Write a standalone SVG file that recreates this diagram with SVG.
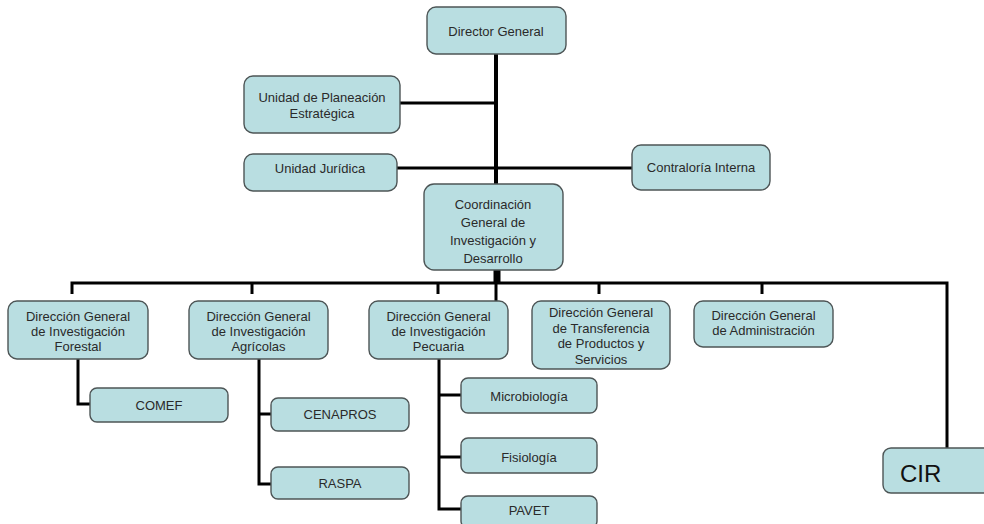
<svg xmlns="http://www.w3.org/2000/svg" width="984" height="524" viewBox="0 0 984 524">
  <style>
    .box { fill: #b9dee1; stroke: #4d5556; stroke-width: 1.4; }
    .lbl { font-family: "Liberation Sans", Arial, sans-serif; font-size: 13px; fill: #2a2a2a; text-anchor: middle; }
    .big { font-family: "Liberation Sans", Arial, sans-serif; font-size: 24px; fill: #111; }
    .ln { fill: none; stroke: #000; stroke-width: 3; stroke-linecap: butt; stroke-linejoin: miter; }
    .trunk { fill: none; stroke: #000; stroke-width: 4; }
  </style>
  <rect width="984" height="524" fill="#ffffff"/>

  <!-- connectors -->
  <g id="connectors">
    <line class="trunk" x1="496" y1="54" x2="496" y2="184"/>
    <line class="ln" x1="400" y1="103" x2="496" y2="103"/>
    <line class="ln" x1="397" y1="168" x2="632" y2="168"/>
    <line class="ln" x1="497" y1="269" x2="497" y2="283" style="stroke-width:7"/>
    <line class="ln" x1="496" y1="283" x2="496" y2="301"/>
    <polyline class="ln" points="72,294 72,283 947,283 947,448"/>
    <line class="ln" x1="252" y1="283" x2="252" y2="294"/>
    <line class="ln" x1="438" y1="283" x2="438" y2="294"/>
    <line class="ln" x1="599" y1="283" x2="599" y2="294"/>
    <line class="ln" x1="762" y1="283" x2="762" y2="294"/>
    <polyline class="ln" points="78,359 78,404 90,404"/>
    <polyline class="ln" points="259,359 259,484 271,484"/>
    <line class="ln" x1="259" y1="414" x2="271" y2="414"/>
    <polyline class="ln" points="439,359 439,509 461,509"/>
    <line class="ln" x1="439" y1="395" x2="461" y2="395"/>
    <line class="ln" x1="439" y1="457" x2="461" y2="457"/>
  </g>

  <g id="director-general">
    <rect class="box" x="427" y="7" width="139" height="47" rx="9"/>
    <text class="lbl" x="496" y="36">Director General</text>
  </g>

  <g id="unidad-planeacion">
    <rect class="box" x="244" y="76" width="156" height="57" rx="9"/>
    <text class="lbl" x="322" y="102">Unidad de Planeación</text>
    <text class="lbl" x="322" y="118">Estratégica</text>
  </g>

  <g id="unidad-juridica">
    <rect class="box" x="244" y="154" width="153" height="37" rx="9"/>
    <text class="lbl" x="320" y="173">Unidad Jurídica</text>
  </g>

  <g id="contraloria-interna">
    <rect class="box" x="632" y="145" width="138" height="45" rx="9"/>
    <text class="lbl" x="701" y="172">Contraloría Interna</text>
  </g>

  <g id="coordinacion-general">
    <rect class="box" x="424" y="184" width="139" height="86" rx="10"/>
    <text class="lbl" x="493" y="209">Coordinación</text>
    <text class="lbl" x="493" y="227">General de</text>
    <text class="lbl" x="493" y="245">Investigación y</text>
    <text class="lbl" x="493" y="263">Desarrollo</text>
  </g>

  <g id="dg-forestal">
    <rect class="box" x="8" y="301" width="140" height="58" rx="9"/>
    <text class="lbl" x="78" y="321">Dirección General</text>
    <text class="lbl" x="78" y="336">de Investigación</text>
    <text class="lbl" x="78" y="351">Forestal</text>
  </g>

  <g id="dg-agricolas">
    <rect class="box" x="189" y="301" width="139" height="58" rx="9"/>
    <text class="lbl" x="258.5" y="321">Dirección General</text>
    <text class="lbl" x="258.5" y="336">de Investigación</text>
    <text class="lbl" x="258.5" y="351">Agrícolas</text>
  </g>

  <g id="dg-pecuaria">
    <rect class="box" x="369" y="301" width="139" height="58" rx="9"/>
    <text class="lbl" x="438.5" y="321">Dirección General</text>
    <text class="lbl" x="438.5" y="336">de Investigación</text>
    <text class="lbl" x="438.5" y="351">Pecuaria</text>
  </g>

  <g id="dg-transferencia">
    <rect class="box" x="532" y="301" width="138" height="68" rx="9"/>
    <text class="lbl" x="601" y="317">Dirección General</text>
    <text class="lbl" x="601" y="332.5">de Transferencia</text>
    <text class="lbl" x="601" y="348">de Productos y</text>
    <text class="lbl" x="601" y="363.5">Servicios</text>
  </g>

  <g id="dg-administracion">
    <rect class="box" x="694" y="301" width="139" height="46" rx="9"/>
    <text class="lbl" x="763.5" y="320">Dirección General</text>
    <text class="lbl" x="763.5" y="335">de Administración</text>
  </g>

  <g id="comef">
    <rect class="box" x="90" y="388" width="138" height="34" rx="7"/>
    <text class="lbl" x="159" y="409.5">COMEF</text>
  </g>

  <g id="cenapros">
    <rect class="box" x="271" y="398" width="138" height="33" rx="7"/>
    <text class="lbl" x="340" y="419">CENAPROS</text>
  </g>

  <g id="raspa">
    <rect class="box" x="271" y="467" width="138" height="32" rx="7"/>
    <text class="lbl" x="340" y="488">RASPA</text>
  </g>

  <g id="microbiologia">
    <rect class="box" x="461" y="378" width="136" height="35" rx="7"/>
    <text class="lbl" x="529" y="400.5">Microbiología</text>
  </g>

  <g id="fisiologia">
    <rect class="box" x="461" y="438" width="136" height="35" rx="7"/>
    <text class="lbl" x="529" y="461.5">Fisiología</text>
  </g>

  <g id="pavet">
    <rect class="box" x="461" y="496" width="136" height="32" rx="7"/>
    <text class="lbl" x="529" y="515">PAVET</text>
  </g>

  <g id="cir">
    <rect class="box" x="883" y="448" width="110" height="45" rx="8"/>
    <text class="big" x="900" y="482">CIR</text>
  </g>
</svg>
